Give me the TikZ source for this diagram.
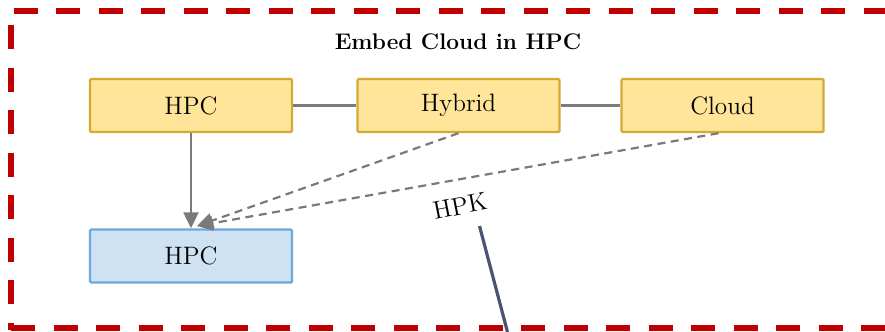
\documentclass[tikz,border=0pt]{standalone}
\usetikzlibrary{arrows.meta,calc}
\definecolor{frame}{HTML}{C00000}
\definecolor{yfill}{HTML}{FFE599}
\definecolor{ydraw}{HTML}{D4AA33}
\definecolor{bfill}{HTML}{CFE2F3}
\definecolor{bdraw}{HTML}{6FA8DC}
\definecolor{conn}{HTML}{7A7A7A}
\definecolor{slate}{HTML}{4B5272}
\tikzset{
  ybox/.style={draw=ydraw, fill=yfill, line width=1.2pt, rounded corners=0.6pt,
    minimum width=101pt, minimum height=26.5pt, inner sep=0pt,
    font=\fontsize{12.6}{14}\selectfont},
  bbox/.style={ybox, draw=bdraw, fill=bfill},
  link/.style={draw=conn, line width=1.1pt},
  darrow/.style={link, dash pattern=on 4pt off 2.75pt, -{Triangle[length=8pt,width=7.5pt]}},
  sarrow/.style={link, -{Triangle[length=8pt,width=7.5pt]}},
  redframe/.style={draw=frame, line width=3pt, dash pattern=on 12pt off 9.25pt}
}
\begin{document}
\begin{tikzpicture}[x=0.5pt,y=-0.5pt]
\useasboundingbox (0,0) rectangle (885,332);
% frame
\draw[redframe, dash phase=19.25pt] (9.5,11) -- (890,11);
\draw[redframe, dash phase=14.25pt] (11,11) -- (11,330);
\draw[redframe] (11,327.5) -- (890,327.5);
\draw[redframe, dash phase=10.75pt] (887.5,11) -- (887.5,330);
% title
\node (title) at (458,42) {\fontsize{11.3}{13}\selectfont\bfseries Embed Cloud in HPC};
% boxes
\node[ybox] (hpc) at (191,105.5) {HPC};
\node[ybox] (hybrid) at (458.5,105.5) {Hybrid};
\node[ybox] (cloud) at (722.5,105.5) {Cloud};
\node[bbox] (hpc2) at (191,256) {HPC};
% connectors
\draw[link] (hpc) -- (hybrid);
\draw[link] (hybrid) -- (cloud);
\draw[sarrow] (hpc.south) -- (hpc2.north);
\coordinate (tip) at (197,226);
\draw[darrow] (hybrid.south) -- (tip);
\draw[darrow] ($(cloud.south)+(-4,0)$) -- (tip);
% HPK
\node[rotate=11, font=\fontsize{12.6}{14}\selectfont] (hpk) at (460,206) {HPK};
\coordinate (hpkfoot) at (479.5,226);
\coordinate (down) at (507.5,332);
\draw[draw=slate, line width=1.6pt] (hpkfoot) -- (down);
\end{tikzpicture}
\end{document}
